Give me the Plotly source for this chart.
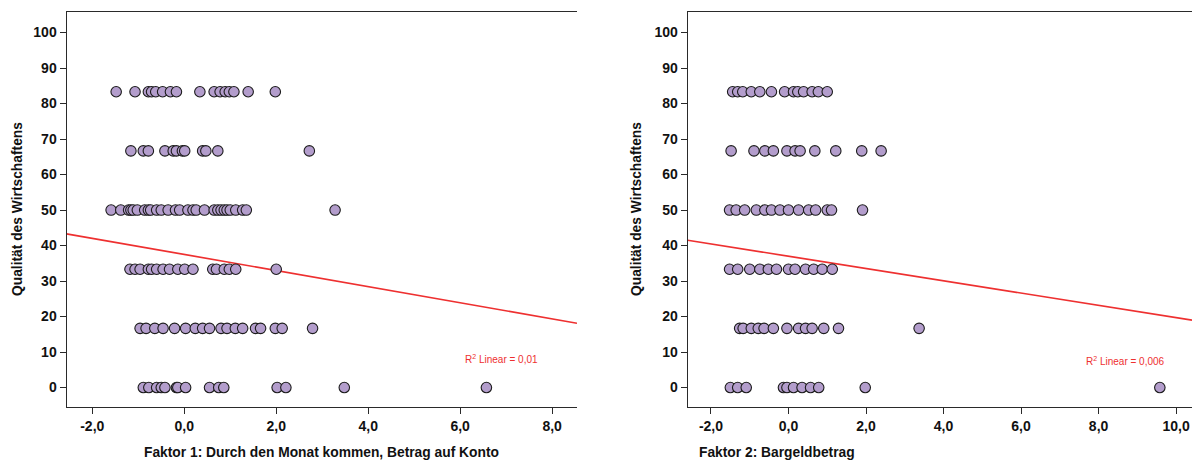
import plotly.graph_objects as go

# ---- data ----
levels = [83.33, 66.67, 50.0, 33.33, 16.67, 0.0]

f1_rows = [
    [-1.48, -1.07, -0.78, -0.71, -0.62, -0.47, -0.30, -0.17, 0.34, 0.65, 0.78, 0.89, 0.98, 1.08, 1.39, 1.98],
    [-1.16, -0.89, -0.78, -0.42, -0.24, -0.17, -0.04, 0.01, 0.40, 0.47, 0.73, 2.72],
    [-1.59, -1.38, -1.21, -1.16, -1.11, -1.02, -0.86, -0.78, -0.73, -0.60, -0.50, -0.35, -0.19, -0.10,
     0.08, 0.19, 0.26, 0.44, 0.65, 0.73, 0.80, 0.87, 0.93, 1.00, 1.12, 1.27, 1.35, 3.28],
    [-1.18, -1.07, -0.96, -0.78, -0.71, -0.60, -0.46, -0.32, -0.14, 0.01, 0.19, 0.62, 0.70, 0.87, 0.98, 1.12, 2.00],
    [-0.96, -0.83, -0.64, -0.46, -0.21, 0.03, 0.24, 0.40, 0.55, 0.80, 0.93, 1.11, 1.27, 1.55, 1.66, 1.98, 2.13, 2.79],
    [-0.89, -0.77, -0.60, -0.50, -0.42, -0.17, -0.14, 0.03, 0.55, 0.75, 0.86, 2.02, 2.21, 3.48, 6.57],
]

f2_rows = [
    [-1.44, -1.31, -1.18, -0.96, -0.74, -0.44, -0.10, 0.13, 0.24, 0.39, 0.61, 0.77, 1.00],
    [-1.48, -0.89, -0.61, -0.39, -0.04, 0.17, 0.30, 0.68, 1.22, 1.89, 2.39],
    [-1.52, -1.35, -1.13, -0.83, -0.61, -0.44, -0.22, 0.00, 0.26, 0.52, 0.70, 1.00, 1.11, 1.91],
    [-1.52, -1.31, -1.00, -0.74, -0.52, -0.31, 0.00, 0.17, 0.44, 0.65, 0.87, 1.13],
    [-1.26, -1.17, -0.96, -0.78, -0.63, -0.39, -0.04, 0.26, 0.44, 0.61, 0.91, 1.29, 3.37],
    [-1.50, -1.31, -1.09, -0.13, -0.04, 0.13, 0.35, 0.57, 0.78, 1.98, 9.58],
]

# linear fit lines (intercept, slope)
fit1 = (37.5, -2.27)
fit2 = (37.0, -1.73)
r2_1 = "0,01"
r2_2 = "0,006"

y_ticks = [0, 10, 20, 30, 40, 50, 60, 70, 80, 90, 100]
x1_ticks = [-2, 0, 2, 4, 6, 8]
x1_labels = ["-2,0", "0,0", "2,0", "4,0", "6,0", "8,0"]
x2_ticks = [-2, 0, 2, 4, 6, 8, 10]
x2_labels = ["-2,0", "0,0", "2,0", "4,0", "6,0", "8,0", "10,0"]

x1_title = "Faktor 1: Durch den Monat kommen, Betrag auf Konto"
x2_title = "Faktor 2: Bargeldbetrag"
y_title = "Qualität des Wirtschaftens"

# ---- styling ----
W, H = 1192, 462
X1_RANGE = [-2.56, 8.54]
X2_RANGE = [-2.60, 10.41]
Y_RANGE = [-5.4, 105.8]
FILL = "#B39DCC"
EDGE = "#1c1c1c"
RED = "#EE3030"
FONT = "Liberation Sans, Arial, sans-serif"


def flatten(rows):
    xs, ys = [], []
    for lvl, row in zip(levels, rows):
        for v in row:
            xs.append(v)
            ys.append(lvl)
    return xs, ys


fig = go.Figure()

for rows, fit, rng, xa, ya in [
    (f1_rows, fit1, X1_RANGE, "x", "y"),
    (f2_rows, fit2, X2_RANGE, "x2", "y2"),
]:
    xs, ys = flatten(rows)
    b0, b1 = fit
    fig.add_trace(go.Scatter(
        x=[rng[0], rng[1]], y=[b0 + b1 * rng[0], b0 + b1 * rng[1]],
        mode="lines", line=dict(color=RED, width=1.7),
        xaxis=xa, yaxis=ya, showlegend=False, hoverinfo="skip",
    ))
    fig.add_trace(go.Scatter(
        x=xs, y=ys, mode="markers",
        marker=dict(size=10.5, color=FILL, line=dict(color=EDGE, width=1.1)),
        xaxis=xa, yaxis=ya, showlegend=False, cliponaxis=False,
    ))

ax_common = dict(
    showgrid=False, zeroline=False, showline=True, linecolor="#2a2a2a", linewidth=1,
    ticks="outside", ticklen=6, tickcolor="#2a2a2a", tickwidth=1,
    tickfont=dict(family=FONT, size=14, color="#111", weight="bold"),
)

dom1 = [66.5 / W, 577 / W]
dom2 = [687.7 / W, 1.0]
ydom = [1 - 406.7 / H, 1 - 12 / H]

fig.update_layout(
    width=W, height=H, margin=dict(l=0, r=0, t=0, b=0),
    paper_bgcolor="white", plot_bgcolor="white",
    font=dict(family=FONT),
    xaxis=dict(domain=dom1, range=X1_RANGE, tickvals=x1_ticks, ticktext=x1_labels,
               mirror=True, anchor="y", **ax_common),
    yaxis=dict(domain=ydom, range=Y_RANGE, tickvals=y_ticks, anchor="x", **ax_common),
    xaxis2=dict(domain=dom2, range=X2_RANGE, tickvals=x2_ticks, ticktext=x2_labels,
                mirror=True, anchor="y2", **ax_common),
    yaxis2=dict(domain=ydom, range=Y_RANGE, tickvals=y_ticks, anchor="x2", **ax_common),
)

title_font = dict(family=FONT, size=13.8, color="#111", weight="bold")
annots = [
    dict(x=321 / W, y=1 - 452 / H, text=x1_title),
    dict(x=777 / W, y=1 - 452 / H, text=x2_title),
    dict(x=18 / W, y=1 - 209 / H, text=y_title, textangle=-90),
    dict(x=637 / W, y=1 - 209 / H, text=y_title, textangle=-90),
]
for a in annots:
    fig.add_annotation(xref="paper", yref="paper", showarrow=False,
                       xanchor="center", yanchor="middle", font=title_font, **a)

fig.add_annotation(xref="paper", yref="paper", x=501.5 / W, y=1 - 359 / H,
                   text="R<sup>2</sup> Linear = " + r2_1, showarrow=False,
                   xanchor="center", yanchor="middle",
                   font=dict(family=FONT, size=10, color=RED))
fig.add_annotation(xref="paper", yref="paper", x=1125.5 / W, y=1 - 361 / H,
                   text="R<sup>2</sup> Linear = " + r2_2, showarrow=False,
                   xanchor="center", yanchor="middle",
                   font=dict(family=FONT, size=10, color=RED))

fig.write_html("out.html", config={"displayModeBar": False})
